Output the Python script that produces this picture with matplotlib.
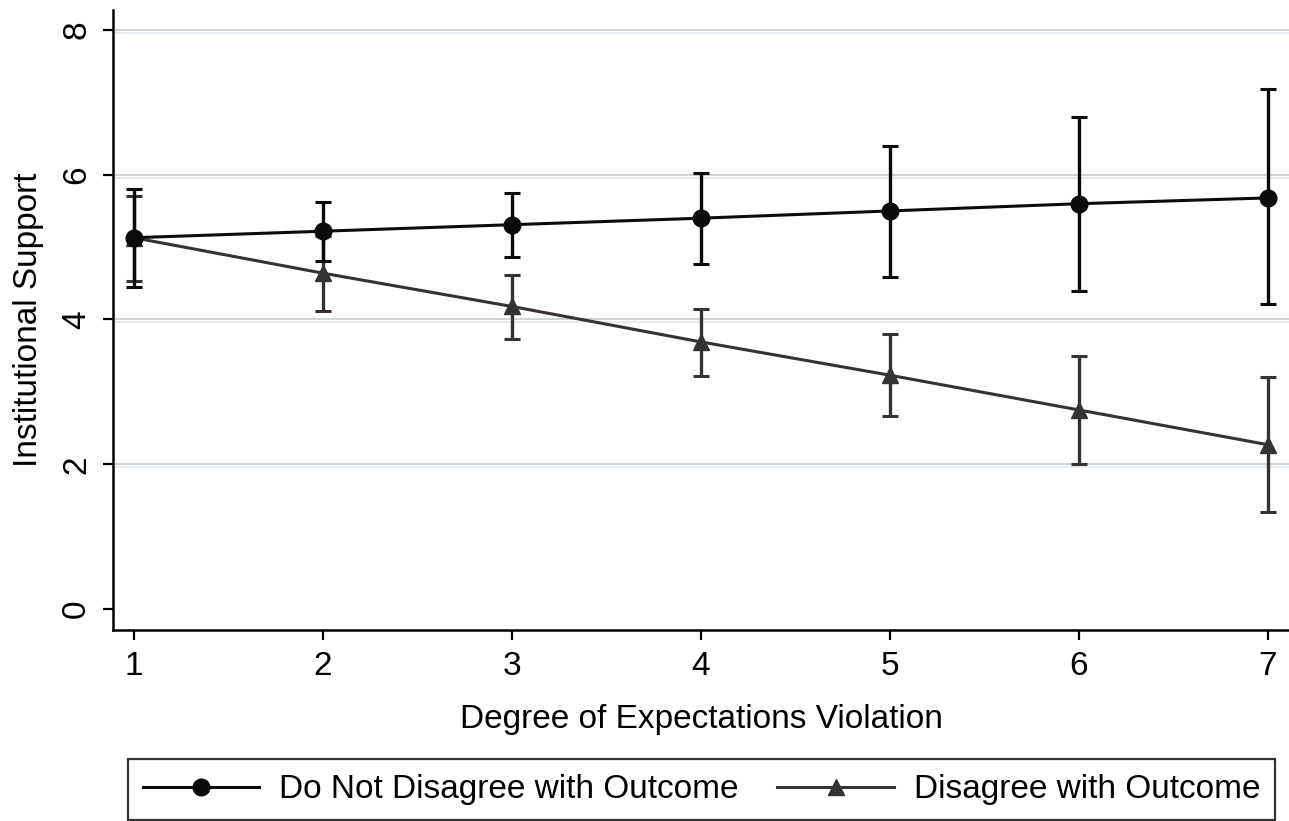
import matplotlib
matplotlib.use("Agg")
import matplotlib.pyplot as plt
import matplotlib.patheffects as pe
from matplotlib.lines import Line2D

plt.rcParams['font.family'] = ['Liberation Sans', 'DejaVu Sans']

# data
violation = [1, 2, 3, 4, 5, 6, 7]

agree_mean = [5.13, 5.22, 5.31, 5.40, 5.50, 5.60, 5.68]
agree_lo = [4.45, 4.81, 4.87, 4.76, 4.59, 4.40, 4.21]
agree_hi = [5.80, 5.62, 5.75, 6.03, 6.40, 6.80, 7.19]

disagree_mean = [5.13, 4.64, 4.18, 3.69, 3.23, 2.75, 2.27]
disagree_lo = [4.53, 4.12, 3.73, 3.22, 2.66, 2.01, 1.34]
disagree_hi = [5.71, 5.16, 4.61, 4.15, 3.80, 3.49, 3.20]

labels = ["Do Not Disagree with Outcome", "Disagree with Outcome"]
yticks = [0, 2, 4, 6, 8]

fs = 24
c_agree = "#0a0a0a"
c_dis = "#333333"

fig = plt.figure(figsize=(12.89, 8.21), dpi=100)
ax = fig.add_axes([113 / 1289, 1 - 630 / 821, 1 - 113 / 1289, 620 / 821])

# disagree series (dark gray, triangles)
err_d = [[m - l for m, l in zip(disagree_mean, disagree_lo)],
         [h - m for m, h in zip(disagree_mean, disagree_hi)]]
ax.errorbar(violation, disagree_mean, yerr=err_d, color=c_dis, lw=2.2,
            marker="^", ms=12, elinewidth=2.4, capsize=6, capthick=2.2, zorder=3)

# do not disagree series (black, circles)
err_a = [[m - l for m, l in zip(agree_mean, agree_lo)],
         [h - m for m, h in zip(agree_mean, agree_hi)]]
ax.errorbar(violation, agree_mean, yerr=err_a, color=c_agree, lw=2.2,
            marker="o", ms=12, elinewidth=2.4, capsize=6, capthick=2.2, zorder=4)

ax.set_xlim(1 - 21 / 189, 7 + 21 / 189)
ax.set_ylim(-21 / 72.375, 8 + 20 / 72.375)
ax.set_xticks(violation)
ax.set_yticks(yticks)
ax.tick_params(axis="both", direction="out", length=7, width=1.6, labelsize=fs,
               color="black", pad=8)
ax.tick_params(axis="y", labelrotation=90)
for t in ax.get_yticklabels():
    t.set_va("center")

for s in ["top", "right"]:
    ax.spines[s].set_visible(False)
for s in ["left", "bottom"]:
    ax.spines[s].set_linewidth(1.8)

# stata-like double gridlines
for yv in yticks[1:]:
    ax.axhline(yv, color="#c9d1d5", lw=1.3, zorder=1,
               path_effects=[pe.SimpleLineShadow(offset=(0, -2), shadow_color="#e3ebf1", alpha=1.0),
                             pe.Normal()])

ax.set_xlabel("Degree of Expectations Violation", fontsize=fs, labelpad=16)
ax.set_ylabel("Institutional Support", fontsize=fs, labelpad=12)

handles = [Line2D([], [], color=c_agree, lw=2.2, marker="o", ms=12),
           Line2D([], [], color=c_dis, lw=2.2, marker="^", ms=12)]
leg = fig.legend(handles, labels, ncol=2,
                 loc="lower center", bbox_to_anchor=(701.5 / 1289, 0.001),
                 fontsize=fs, frameon=True, fancybox=False, handlelength=3.5,
                 handletextpad=0.6, columnspacing=1.15, borderpad=0.45,
                 borderaxespad=0)
leg.get_frame().set_edgecolor("black")
leg.get_frame().set_linewidth(1.6)

fig.savefig("out.png", dpi=100, facecolor="white")
